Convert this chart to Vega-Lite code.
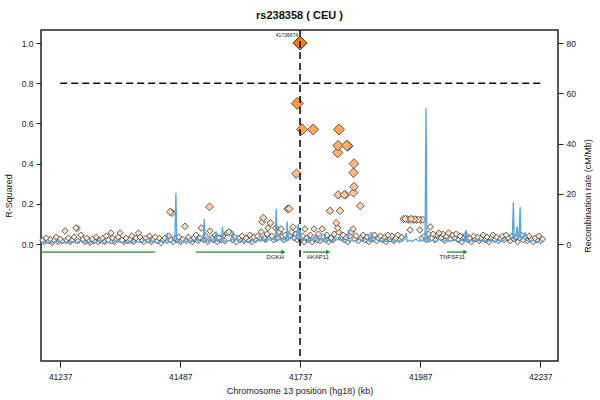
{
  "$schema": "https://vega.github.io/schema/vega-lite/v6.json",
  "autosize": {"type": "none"},
  "padding": {"left": 41, "top": 30, "right": 42, "bottom": 39},
  "width": 517,
  "height": 331,
  "config": {
    "font": "Liberation Sans",
    "view": {"stroke": "#222", "strokeWidth": 1.5},
    "axis": {"grid": false, "domain": false, "tickColor": "#222", "tickWidth": 1, "tickSize": 5, "labelColor": "#222", "labelFontSize": 8.5, "titleFontSize": 9, "titleFontWeight": "normal", "titleColor": "#222", "labelFont": "Liberation Sans", "titleFont": "Liberation Sans"}
  },
  "title": {"text": "rs238358 ( CEU )", "fontSize": 11, "fontWeight": "bold", "color": "#111", "offset": 8, "anchor": "middle"},
  "datasets": {
    "snps": [
      {"pos": 41200, "r2": 0.02}, {"pos": 41204, "r2": 0.01}, {"pos": 41208, "r2": 0.03}, {"pos": 41212, "r2": 0.015}, {"pos": 41216, "r2": 0.025}, {"pos": 41220, "r2": 0.005}, {"pos": 41224, "r2": 0.02}, {"pos": 41229, "r2": 0.035}, {"pos": 41233, "r2": 0.01}, {"pos": 41237, "r2": 0.025}, {"pos": 41241, "r2": 0.015}, {"pos": 41247, "r2": 0.065}, {"pos": 41250, "r2": 0.02}, {"pos": 41254, "r2": 0.03}, {"pos": 41258, "r2": 0.01}, {"pos": 41262, "r2": 0.02}, {"pos": 41266, "r2": 0.035}, {"pos": 41270, "r2": 0.08}, {"pos": 41272, "r2": 0.078}, {"pos": 41274, "r2": 0.015}, {"pos": 41280, "r2": 0.045}, {"pos": 41284, "r2": 0.025}, {"pos": 41288, "r2": 0.01}, {"pos": 41292, "r2": 0.03}, {"pos": 41296, "r2": 0.02},
      {"pos": 41300, "r2": 0.005}, {"pos": 41304, "r2": 0.025}, {"pos": 41308, "r2": 0.015}, {"pos": 41312, "r2": 0.035}, {"pos": 41316, "r2": 0.01}, {"pos": 41320, "r2": 0.02}, {"pos": 41325, "r2": 0.03}, {"pos": 41329, "r2": 0.01}, {"pos": 41333, "r2": 0.04}, {"pos": 41337, "r2": 0.02}, {"pos": 41343, "r2": 0.055}, {"pos": 41346, "r2": 0.03}, {"pos": 41350, "r2": 0.01}, {"pos": 41354, "r2": 0.025}, {"pos": 41358, "r2": 0.035}, {"pos": 41362, "r2": 0.055}, {"pos": 41366, "r2": 0.02}, {"pos": 41370, "r2": 0.01}, {"pos": 41374, "r2": 0.03}, {"pos": 41378, "r2": 0.015}, {"pos": 41382, "r2": 0.025}, {"pos": 41386, "r2": 0.04}, {"pos": 41390, "r2": 0.01}, {"pos": 41395, "r2": 0.03}, {"pos": 41400, "r2": 0.055}, {"pos": 41403, "r2": 0.035}, {"pos": 41407, "r2": 0.02}, {"pos": 41411, "r2": 0.01}, {"pos": 41415, "r2": 0.03}, {"pos": 41419, "r2": 0.02}, {"pos": 41423, "r2": 0.04}, {"pos": 41427, "r2": 0.01}, {"pos": 41431, "r2": 0.025}, {"pos": 41435, "r2": 0.035}, {"pos": 41439, "r2": 0.015}, {"pos": 41443, "r2": 0.03}, {"pos": 41447, "r2": 0.005}, {"pos": 41451, "r2": 0.02}, {"pos": 41455, "r2": 0.03}, {"pos": 41459, "r2": 0.015}, {"pos": 41463, "r2": 0.04}, {"pos": 41466, "r2": 0.16}, {"pos": 41467, "r2": 0.02}, {"pos": 41470, "r2": 0.155}, {"pos": 41472, "r2": 0.01}, {"pos": 41476, "r2": 0.03}, {"pos": 41480, "r2": 0.02}, {"pos": 41484, "r2": 0.035}, {"pos": 41488, "r2": 0.01}, {"pos": 41492, "r2": 0.025}, {"pos": 41497, "r2": 0.088}, {"pos": 41500, "r2": 0.015}, {"pos": 41504, "r2": 0.035}, {"pos": 41508, "r2": 0.02}, {"pos": 41512, "r2": 0.01}, {"pos": 41516, "r2": 0.03}, {"pos": 41520, "r2": 0.045}, {"pos": 41524, "r2": 0.015}, {"pos": 41528, "r2": 0.03}, {"pos": 41531, "r2": 0.08}, {"pos": 41536, "r2": 0.02}, {"pos": 41540, "r2": 0.04}, {"pos": 41544, "r2": 0.01}, {"pos": 41548, "r2": 0.185}, {"pos": 41549, "r2": 0.065}, {"pos": 41552, "r2": 0.03}, {"pos": 41556, "r2": 0.02}, {"pos": 41560, "r2": 0.045}, {"pos": 41564, "r2": 0.01}, {"pos": 41568, "r2": 0.03}, {"pos": 41572, "r2": 0.02}, {"pos": 41576, "r2": 0.04}, {"pos": 41580, "r2": 0.015}, {"pos": 41585, "r2": 0.055}, {"pos": 41588, "r2": 0.06}, {"pos": 41592, "r2": 0.055}, {"pos": 41596, "r2": 0.02}, {"pos": 41600, "r2": 0.035}, {"pos": 41604, "r2": 0.01}, {"pos": 41608, "r2": 0.03}, {"pos": 41612, "r2": 0.02}, {"pos": 41616, "r2": 0.04}, {"pos": 41620, "r2": 0.015}, {"pos": 41624, "r2": 0.03}, {"pos": 41628, "r2": 0.02}, {"pos": 41632, "r2": 0.045}, {"pos": 41636, "r2": 0.01}, {"pos": 41640, "r2": 0.035}, {"pos": 41644, "r2": 0.02}, {"pos": 41648, "r2": 0.04}, {"pos": 41652, "r2": 0.03}, {"pos": 41656, "r2": 0.06}, {"pos": 41658, "r2": 0.11}, {"pos": 41660, "r2": 0.13}, {"pos": 41662, "r2": 0.03}, {"pos": 41665, "r2": 0.02}, {"pos": 41668, "r2": 0.05}, {"pos": 41670, "r2": 0.08}, {"pos": 41675, "r2": 0.105}, {"pos": 41678, "r2": 0.04}, {"pos": 41682, "r2": 0.02}, {"pos": 41686, "r2": 0.08}, {"pos": 41690, "r2": 0.03}, {"pos": 41693, "r2": 0.06}, {"pos": 41697, "r2": 0.075}, {"pos": 41700, "r2": 0.04}, {"pos": 41703, "r2": 0.02}, {"pos": 41706, "r2": 0.045}, {"pos": 41709, "r2": 0.03}, {"pos": 41711, "r2": 0.175}, {"pos": 41714, "r2": 0.176}, {"pos": 41716, "r2": 0.04}, {"pos": 41719, "r2": 0.06}, {"pos": 41722, "r2": 0.085}, {"pos": 41725, "r2": 0.03}, {"pos": 41728, "r2": 0.05}, {"pos": 41731, "r2": 0.02}, {"pos": 41734, "r2": 0.04},
      {"pos": 41738, "r2": 0.02}, {"pos": 41742, "r2": 0.04}, {"pos": 41745, "r2": 0.01}, {"pos": 41747, "r2": 0.075}, {"pos": 41750, "r2": 0.03}, {"pos": 41754, "r2": 0.02}, {"pos": 41758, "r2": 0.045}, {"pos": 41762, "r2": 0.01}, {"pos": 41766, "r2": 0.075}, {"pos": 41769, "r2": 0.03}, {"pos": 41772, "r2": 0.02}, {"pos": 41775, "r2": 0.05}, {"pos": 41778, "r2": 0.015}, {"pos": 41783, "r2": 0.075}, {"pos": 41786, "r2": 0.035}, {"pos": 41790, "r2": 0.02}, {"pos": 41793, "r2": 0.045}, {"pos": 41796, "r2": 0.01}, {"pos": 41799, "r2": 0.165}, {"pos": 41801, "r2": 0.03}, {"pos": 41805, "r2": 0.02}, {"pos": 41808, "r2": 0.05}, {"pos": 41812, "r2": 0.105}, {"pos": 41815, "r2": 0.08}, {"pos": 41817, "r2": 0.06}, {"pos": 41820, "r2": 0.165}, {"pos": 41822, "r2": 0.03}, {"pos": 41826, "r2": 0.045}, {"pos": 41829, "r2": 0.02}, {"pos": 41832, "r2": 0.035}, {"pos": 41836, "r2": 0.01}, {"pos": 41840, "r2": 0.04}, {"pos": 41844, "r2": 0.06}, {"pos": 41847, "r2": 0.075}, {"pos": 41850, "r2": 0.025}, {"pos": 41854, "r2": 0.04}, {"pos": 41858, "r2": 0.015}, {"pos": 41862, "r2": 0.19}, {"pos": 41864, "r2": 0.03}, {"pos": 41868, "r2": 0.045}, {"pos": 41872, "r2": 0.02}, {"pos": 41876, "r2": 0.035}, {"pos": 41880, "r2": 0.01}, {"pos": 41884, "r2": 0.04}, {"pos": 41888, "r2": 0.025}, {"pos": 41892, "r2": 0.045}, {"pos": 41896, "r2": 0.015}, {"pos": 41900, "r2": 0.03}, {"pos": 41904, "r2": 0.04}, {"pos": 41908, "r2": 0.02}, {"pos": 41912, "r2": 0.035}, {"pos": 41916, "r2": 0.01}, {"pos": 41920, "r2": 0.045}, {"pos": 41924, "r2": 0.025}, {"pos": 41928, "r2": 0.04}, {"pos": 41932, "r2": 0.015}, {"pos": 41936, "r2": 0.03}, {"pos": 41940, "r2": 0.045}, {"pos": 41944, "r2": 0.02}, {"pos": 41948, "r2": 0.035}, {"pos": 41952, "r2": 0.125}, {"pos": 41956, "r2": 0.125}, {"pos": 41960, "r2": 0.124}, {"pos": 41964, "r2": 0.12}, {"pos": 41966, "r2": 0.07}, {"pos": 41968, "r2": 0.125}, {"pos": 41972, "r2": 0.12}, {"pos": 41975, "r2": 0.123}, {"pos": 41979, "r2": 0.12}, {"pos": 41983, "r2": 0.122}, {"pos": 41986, "r2": 0.07}, {"pos": 41988, "r2": 0.12}, {"pos": 41990, "r2": 0.03}, {"pos": 41992, "r2": 0.121}, {"pos": 41996, "r2": 0.04}, {"pos": 42000, "r2": 0.02}, {"pos": 42004, "r2": 0.05}, {"pos": 42008, "r2": 0.085}, {"pos": 42011, "r2": 0.03}, {"pos": 42014, "r2": 0.05}, {"pos": 42018, "r2": 0.02}, {"pos": 42022, "r2": 0.045}, {"pos": 42026, "r2": 0.055}, {"pos": 42030, "r2": 0.03}, {"pos": 42034, "r2": 0.05}, {"pos": 42038, "r2": 0.015}, {"pos": 42042, "r2": 0.04}, {"pos": 42046, "r2": 0.055}, {"pos": 42050, "r2": 0.025}, {"pos": 42054, "r2": 0.045}, {"pos": 42058, "r2": 0.03}, {"pos": 42062, "r2": 0.05}, {"pos": 42066, "r2": 0.02}, {"pos": 42070, "r2": 0.04}, {"pos": 42074, "r2": 0.01}, {"pos": 42078, "r2": 0.035}, {"pos": 42082, "r2": 0.045}, {"pos": 42086, "r2": 0.02}, {"pos": 42090, "r2": 0.03}, {"pos": 42094, "r2": 0.01}, {"pos": 42098, "r2": 0.04}, {"pos": 42102, "r2": 0.025}, {"pos": 42106, "r2": 0.035}, {"pos": 42110, "r2": 0.015}, {"pos": 42114, "r2": 0.03}, {"pos": 42118, "r2": 0.045}, {"pos": 42122, "r2": 0.02}, {"pos": 42126, "r2": 0.035}, {"pos": 42130, "r2": 0.01}, {"pos": 42134, "r2": 0.03}, {"pos": 42138, "r2": 0.045}, {"pos": 42142, "r2": 0.02}, {"pos": 42146, "r2": 0.035}, {"pos": 42150, "r2": 0.015}, {"pos": 42154, "r2": 0.03}, {"pos": 42158, "r2": 0.04}, {"pos": 42162, "r2": 0.02}, {"pos": 42166, "r2": 0.045}, {"pos": 42170, "r2": 0.03}, {"pos": 42174, "r2": 0.015}, {"pos": 42178, "r2": 0.04}, {"pos": 42182, "r2": 0.025}, {"pos": 42186, "r2": 0.035}, {"pos": 42190, "r2": 0.01}, {"pos": 42194, "r2": 0.03}, {"pos": 42198, "r2": 0.045}, {"pos": 42202, "r2": 0.02}, {"pos": 42206, "r2": 0.035}, {"pos": 42210, "r2": 0.015}, {"pos": 42214, "r2": 0.04}, {"pos": 42218, "r2": 0.025}, {"pos": 42222, "r2": 0.01}, {"pos": 42226, "r2": 0.03}, {"pos": 42230, "r2": 0.02}, {"pos": 42234, "r2": 0.04}, {"pos": 42238, "r2": 0.015}, {"pos": 42242, "r2": 0.025},
      {"pos": 41729, "r2": 0.35}, {"pos": 41731, "r2": 0.7}, {"pos": 41741, "r2": 0.57}, {"pos": 41764, "r2": 0.57}, {"pos": 41818, "r2": 0.57}, {"pos": 41816, "r2": 0.49}, {"pos": 41834, "r2": 0.49}, {"pos": 41836, "r2": 0.488}, {"pos": 41815, "r2": 0.455}, {"pos": 41849, "r2": 0.4}, {"pos": 41848, "r2": 0.355}, {"pos": 41849, "r2": 0.285}, {"pos": 41848, "r2": 0.255}, {"pos": 41816, "r2": 0.245}, {"pos": 41829, "r2": 0.245}, {"pos": 41831, "r2": 0.244},
      {"pos": 41736.674, "r2": 1.0}
    ],
    "recomb": [
      {"pos": 41197, "rate": 0.5}, {"pos": 41210, "rate": 0.8}, {"pos": 41220, "rate": 0.4}, {"pos": 41230, "rate": 1.0}, {"pos": 41240, "rate": 0.6}, {"pos": 41250, "rate": 0.3}, {"pos": 41260, "rate": 0.9}, {"pos": 41270, "rate": 0.5}, {"pos": 41280, "rate": 1.2}, {"pos": 41290, "rate": 0.6}, {"pos": 41300, "rate": 0.4}, {"pos": 41310, "rate": 0.8}, {"pos": 41320, "rate": 1.5}, {"pos": 41325, "rate": 0.5}, {"pos": 41335, "rate": 0.7}, {"pos": 41345, "rate": 0.3}, {"pos": 41355, "rate": 1.2}, {"pos": 41365, "rate": 0.5}, {"pos": 41375, "rate": 0.8}, {"pos": 41385, "rate": 0.4}, {"pos": 41395, "rate": 1.0}, {"pos": 41405, "rate": 0.6}, {"pos": 41415, "rate": 1.8}, {"pos": 41420, "rate": 0.5}, {"pos": 41430, "rate": 0.9}, {"pos": 41440, "rate": 0.6}, {"pos": 41450, "rate": 1.2}, {"pos": 41457, "rate": 0.8}, {"pos": 41460, "rate": 4.5}, {"pos": 41462, "rate": 0.6}, {"pos": 41470, "rate": 1.0}, {"pos": 41476, "rate": 2.0}, {"pos": 41478, "rate": 20.3}, {"pos": 41480, "rate": 1.0}, {"pos": 41488, "rate": 0.5}, {"pos": 41495, "rate": 1.5}, {"pos": 41502, "rate": 0.8}, {"pos": 41510, "rate": 1.5}, {"pos": 41515, "rate": 0.9}, {"pos": 41520, "rate": 2.5}, {"pos": 41524, "rate": 1.0}, {"pos": 41530, "rate": 2.0}, {"pos": 41535, "rate": 1.0}, {"pos": 41537, "rate": 10.0}, {"pos": 41539, "rate": 1.2}, {"pos": 41545, "rate": 0.8}, {"pos": 41550, "rate": 2.5}, {"pos": 41555, "rate": 1.0}, {"pos": 41559, "rate": 1.5}, {"pos": 41562, "rate": 5.0}, {"pos": 41564, "rate": 1.0}, {"pos": 41570, "rate": 2.0}, {"pos": 41573, "rate": 1.0}, {"pos": 41575, "rate": 7.0}, {"pos": 41577, "rate": 1.5}, {"pos": 41582, "rate": 0.8}, {"pos": 41588, "rate": 1.5}, {"pos": 41594, "rate": 1.0}, {"pos": 41597, "rate": 5.0}, {"pos": 41599, "rate": 1.0}, {"pos": 41605, "rate": 2.5}, {"pos": 41610, "rate": 0.6}, {"pos": 41615, "rate": 1.5}, {"pos": 41620, "rate": 0.8}, {"pos": 41626, "rate": 1.2}, {"pos": 41632, "rate": 0.5}, {"pos": 41638, "rate": 1.8}, {"pos": 41644, "rate": 0.8}, {"pos": 41650, "rate": 2.0}, {"pos": 41655, "rate": 1.0}, {"pos": 41660, "rate": 2.5}, {"pos": 41665, "rate": 1.0}, {"pos": 41670, "rate": 3.0}, {"pos": 41675, "rate": 1.5}, {"pos": 41680, "rate": 2.0}, {"pos": 41685, "rate": 1.5}, {"pos": 41687, "rate": 14.0}, {"pos": 41689, "rate": 1.2}, {"pos": 41695, "rate": 2.0}, {"pos": 41700, "rate": 1.0}, {"pos": 41705, "rate": 2.5}, {"pos": 41708, "rate": 1.0}, {"pos": 41710, "rate": 9.0}, {"pos": 41712, "rate": 1.5}, {"pos": 41718, "rate": 3.0}, {"pos": 41722, "rate": 1.5}, {"pos": 41728, "rate": 2.0}, {"pos": 41733, "rate": 8.0}, {"pos": 41735, "rate": 2.0}, {"pos": 41737, "rate": 5.6}, {"pos": 41740, "rate": 1.5}, {"pos": 41750, "rate": 2.0}, {"pos": 41755, "rate": 1.0}, {"pos": 41760, "rate": 2.5}, {"pos": 41765, "rate": 1.2}, {"pos": 41770, "rate": 3.0}, {"pos": 41775, "rate": 1.0}, {"pos": 41780, "rate": 2.0}, {"pos": 41786, "rate": 1.0}, {"pos": 41789, "rate": 4.4}, {"pos": 41791, "rate": 1.0}, {"pos": 41798, "rate": 2.0}, {"pos": 41805, "rate": 1.0}, {"pos": 41810, "rate": 3.0}, {"pos": 41815, "rate": 1.5}, {"pos": 41820, "rate": 2.5}, {"pos": 41825, "rate": 1.0}, {"pos": 41830, "rate": 2.0}, {"pos": 41835, "rate": 1.5}, {"pos": 41837, "rate": 5.6}, {"pos": 41839, "rate": 1.0}, {"pos": 41845, "rate": 1.5}, {"pos": 41852, "rate": 1.0}, {"pos": 41860, "rate": 2.0}, {"pos": 41866, "rate": 1.0}, {"pos": 41875, "rate": 2.0}, {"pos": 41882, "rate": 1.0}, {"pos": 41886, "rate": 4.8}, {"pos": 41888, "rate": 1.0}, {"pos": 41895, "rate": 2.0}, {"pos": 41902, "rate": 1.0}, {"pos": 41910, "rate": 1.5}, {"pos": 41918, "rate": 1.0}, {"pos": 41925, "rate": 2.0}, {"pos": 41932, "rate": 1.0}, {"pos": 41940, "rate": 1.5}, {"pos": 41948, "rate": 1.0}, {"pos": 41955, "rate": 2.0}, {"pos": 41958, "rate": 4.4}, {"pos": 41960, "rate": 1.0}, {"pos": 41966, "rate": 1.5}, {"pos": 41970, "rate": 1.0}, {"pos": 41978, "rate": 2.0}, {"pos": 41985, "rate": 1.0}, {"pos": 41992, "rate": 1.5}, {"pos": 41997, "rate": 1.0}, {"pos": 41999, "rate": 54.0}, {"pos": 42001, "rate": 1.0}, {"pos": 42003, "rate": 3.0}, {"pos": 42005, "rate": 0.8}, {"pos": 42012, "rate": 1.5}, {"pos": 42020, "rate": 1.0}, {"pos": 42028, "rate": 2.0}, {"pos": 42035, "rate": 1.0}, {"pos": 42042, "rate": 1.5}, {"pos": 42050, "rate": 1.0}, {"pos": 42058, "rate": 2.0}, {"pos": 42065, "rate": 1.0}, {"pos": 42072, "rate": 1.5}, {"pos": 42079, "rate": 1.0}, {"pos": 42082, "rate": 5.6}, {"pos": 42084, "rate": 1.0}, {"pos": 42090, "rate": 1.5}, {"pos": 42098, "rate": 1.0}, {"pos": 42105, "rate": 2.0}, {"pos": 42112, "rate": 1.0}, {"pos": 42120, "rate": 1.5}, {"pos": 42128, "rate": 1.0}, {"pos": 42135, "rate": 2.0}, {"pos": 42142, "rate": 1.0}, {"pos": 42150, "rate": 1.5}, {"pos": 42158, "rate": 1.0}, {"pos": 42165, "rate": 2.0}, {"pos": 42172, "rate": 1.5}, {"pos": 42179, "rate": 2.5}, {"pos": 42181, "rate": 16.5}, {"pos": 42183, "rate": 2.0}, {"pos": 42186, "rate": 3.0}, {"pos": 42189, "rate": 7.0}, {"pos": 42191, "rate": 2.0}, {"pos": 42193, "rate": 3.0}, {"pos": 42195, "rate": 14.7}, {"pos": 42197, "rate": 2.0}, {"pos": 42203, "rate": 3.0}, {"pos": 42206, "rate": 4.8}, {"pos": 42208, "rate": 1.5}, {"pos": 42215, "rate": 1.0}, {"pos": 42222, "rate": 1.5}, {"pos": 42230, "rate": 1.0}, {"pos": 42237, "rate": 0.8}
    ],
    "genes": [
      {"gene": "", "start": 41197, "end": 41435, "labelPos": 41316, "arrow": false},
      {"gene": "DGKH", "start": 41520, "end": 41702, "labelPos": 41685, "arrow": true},
      {"gene": "AKAP11", "start": 41743, "end": 41795, "labelPos": 41774, "arrow": true},
      {"gene": "TNFSF11", "start": 42043, "end": 42081, "labelPos": 42054, "arrow": true}
    ]
  },
  "layer": [
    {
      "layer": [
        {
          "data": {"values": [{"y": 0.8, "x1": 41237, "x2": 42237}]},
          "mark": {"type": "rule", "strokeDash": [7, 4], "strokeWidth": 1.6, "color": "#111"},
          "encoding": {
            "x": {"field": "x1", "type": "quantitative", "scale": {"domain": [41197, 42274], "nice": false, "zero": false},
                  "axis": {"values": [41237, 41487, 41737, 41987, 42237], "format": "d", "title": "Chromosome 13 position (hg18) (kb)", "labelPadding": 5, "titlePadding": 6, "tickSize": 6}},
            "x2": {"field": "x2"},
            "y": {"field": "y", "type": "quantitative", "scale": {"domain": [-0.582, 1.065], "nice": false, "zero": false},
                  "axis": {"values": [0, 0.2, 0.4, 0.6, 0.8, 1.0], "format": ".1f", "title": "R-Squared", "labelPadding": 3, "titlePadding": 8}}
          }
        },
        {
          "data": {"name": "genes"},
          "mark": {"type": "rule", "color": "#2a8a2a", "strokeWidth": 1.3},
          "encoding": {
            "x": {"field": "start", "type": "quantitative"},
            "x2": {"field": "end"},
            "y": {"datum": -0.04, "type": "quantitative"}
          }
        },
        {
          "data": {"name": "genes"},
          "transform": [{"filter": "datum.arrow"}],
          "mark": {"type": "point", "shape": "triangle-right", "filled": true, "color": "#2a8a2a", "size": 22, "opacity": 1},
          "encoding": {
            "x": {"field": "end", "type": "quantitative"},
            "y": {"datum": -0.04, "type": "quantitative"}
          }
        },
        {
          "data": {"name": "genes"},
          "mark": {"type": "text", "fontSize": 6, "color": "#222", "baseline": "middle", "align": "center"},
          "encoding": {
            "x": {"field": "labelPos", "type": "quantitative"},
            "y": {"datum": -0.066, "type": "quantitative"},
            "text": {"field": "gene"}
          }
        },
        {
          "data": {"name": "snps"},
          "mark": {"type": "point", "shape": "diamond", "filled": true, "stroke": "#3a3a3a", "strokeWidth": 0.8, "opacity": 1},
          "encoding": {
            "x": {"field": "pos", "type": "quantitative"},
            "y": {"field": "r2", "type": "quantitative"},
            "fill": {"field": "r2", "type": "quantitative", "scale": {"type": "pow", "exponent": 0.7, "domain": [0, 1], "range": ["#f6f2ee", "#ff7a00"]}, "legend": null},
            "size": {"field": "r2", "type": "quantitative", "scale": {"domain": [0, 1], "range": [30, 196]}, "legend": null},
            "order": {"field": "r2", "type": "quantitative", "sort": "ascending"}
          }
        },
        {
          "data": {"values": [{"x": 41736.674, "y": 1.0}]},
          "mark": {"type": "point", "shape": "diamond", "filled": true, "fill": "#ff7a00", "stroke": "#333", "strokeWidth": 0.8, "size": 196, "opacity": 1},
          "encoding": {"x": {"field": "x", "type": "quantitative"}, "y": {"field": "y", "type": "quantitative"}}
        },
        {
          "data": {"values": [{"x": 41736.674}]},
          "mark": {"type": "rule", "strokeDash": [7, 4], "strokeWidth": 1.6, "color": "#111"},
          "encoding": {"x": {"field": "x", "type": "quantitative"}}
        },
        {
          "data": {"values": [{"x": 41736.674, "y": 1.04, "label": "41736674"}]},
          "mark": {"type": "text", "fontSize": 5, "align": "right", "baseline": "middle", "dx": -2, "color": "#222"},
          "encoding": {"x": {"field": "x", "type": "quantitative"}, "y": {"field": "y", "type": "quantitative"}, "text": {"field": "label"}}
        }
      ]
    },
    {
      "data": {"name": "recomb"},
      "mark": {"type": "line", "color": "#5ba3d9", "strokeWidth": 1.3, "interpolate": "linear"},
      "encoding": {
        "x": {"field": "pos", "type": "quantitative"},
        "y": {"field": "rate", "type": "quantitative", "scale": {"domain": [-46.56, 85.2], "nice": false, "zero": false},
              "axis": {"orient": "right", "values": [0, 20, 40, 60, 80], "title": "Recombination rate (cM/Mb)", "titleAngle": -90, "titleBaseline": "top", "labelPadding": 3, "titlePadding": 8}}
      }
    }
  ],
  "resolve": {"scale": {"y": "independent"}}
}
